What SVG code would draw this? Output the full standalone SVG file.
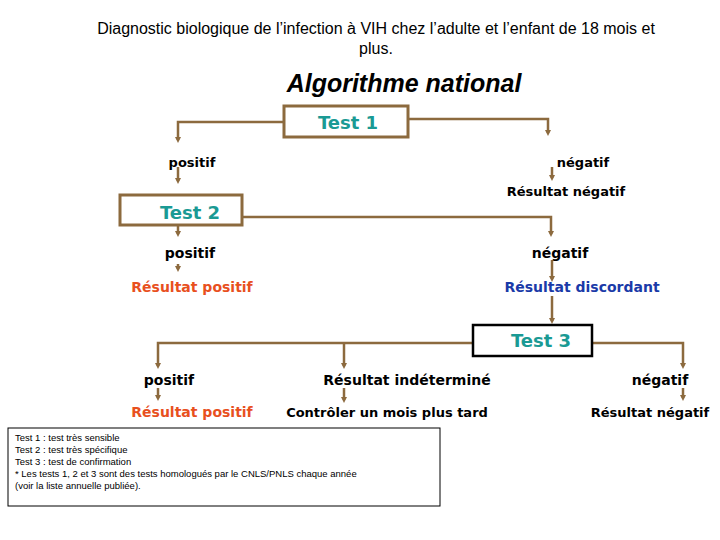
<svg xmlns="http://www.w3.org/2000/svg" width="720" height="540" viewBox="0 0 720 540">
<defs>
<marker id="ah" markerWidth="6" markerHeight="6" refX="3" refY="3" orient="auto" markerUnits="userSpaceOnUse"><path d="M0,0 L6,3 L0,6 z" fill="#8c6a3e"/></marker>
<style>
.c{fill:none;stroke:#8c6a3e;stroke-width:2.5}
.b{font-family:"DejaVu Sans",Verdana,sans-serif;font-weight:bold;text-anchor:middle}
.l{font-size:13px;fill:#000}
.t{font-size:18px;fill:#1a9a94}
.box{fill:#fff;stroke:#8c6a3e;stroke-width:3}
</style>
</defs>
<rect width="720" height="540" fill="#fff"/>
<g id="title" font-family="Liberation Sans,Arial,sans-serif" font-size="16" text-anchor="middle">
<text x="376" y="34">Diagnostic biologique de l’infection à  VIH chez l’adulte et l’enfant de 18 mois et</text>
<text x="376" y="54">plus.</text>
<text x="404" y="92" font-size="25" font-weight="bold" font-style="italic">Algorithme national</text>
</g>
<g id="connectors">
<path class="c" d="M283,122 H178 V140" marker-end="url(#ah)"/>
<path class="c" d="M408,119 H548 V133" marker-end="url(#ah)"/>
<path class="c" d="M178,167 V181" marker-end="url(#ah)"/>
<path class="c" d="M552,167 V178" marker-end="url(#ah)"/>
<path class="c" d="M242,217 H551 V234" marker-end="url(#ah)"/>
<path class="c" d="M178,225 V234" marker-end="url(#ah)"/>
<path class="c" d="M178,264 V269" marker-end="url(#ah)"/>
<path class="c" d="M552,260 V279" marker-end="url(#ah)"/>
<path class="c" d="M552,296 V321" marker-end="url(#ah)"/>
<path class="c" d="M472,343 H158 V366" marker-end="url(#ah)"/>
<path class="c" d="M344,343 V366" marker-end="url(#ah)"/>
<path class="c" d="M592,343 H683 V366" marker-end="url(#ah)"/>
<path class="c" d="M158,388 V398" marker-end="url(#ah)"/>
<path class="c" d="M344,388 V400" marker-end="url(#ah)"/>
<path class="c" d="M683,388 V398" marker-end="url(#ah)"/>
</g>
<g id="test1"><rect class="box" x="284" y="106" width="124" height="31"/><text class="b t" x="348" y="129">Test 1</text></g>
<g id="test2"><rect class="box" x="120" y="195" width="122" height="30"/><text class="b t" x="190" y="219">Test 2</text></g>
<g id="test3"><rect x="473" y="325" width="119" height="31" fill="#fff" stroke="#000" stroke-width="2.5"/><text class="b t" x="541" y="347">Test 3</text></g>
<g id="labels" class="b">
<text class="b l" x="192" y="167">positif</text>
<text class="b l" x="583" y="167">négatif</text>
<text class="b l" x="566" y="196">Résultat négatif</text>
<text class="b" x="190" y="258" font-size="14">positif</text>
<text class="b" x="560" y="258" font-size="14">négatif</text>
<text class="b" x="192" y="292" font-size="14" fill="#e8501e">Résultat positif</text>
<text class="b" x="582" y="292" font-size="14" fill="#1a3aa8">Résultat discordant</text>
<text class="b" x="169" y="385" font-size="14">positif</text>
<text class="b" x="407" y="385" font-size="14">Résultat indéterminé</text>
<text class="b" x="660" y="385" font-size="14">négatif</text>
<text class="b" x="192" y="417" font-size="14" fill="#e8501e">Résultat positif</text>
<text class="b l" x="387" y="417">Contrôler un mois plus tard</text>
<text class="b l" x="650" y="417">Résultat négatif</text>
</g>
<g id="legend" font-family="Liberation Sans,Arial,sans-serif" font-size="9.5">
<rect x="8" y="428" width="432" height="78" fill="#fff" stroke="#000" stroke-width="1"/>
<text x="15" y="441">Test 1 : test très sensible</text>
<text x="15" y="453">Test 2 : test très spécifique</text>
<text x="15" y="465">Test 3 : test de confirmation</text>
<text x="15" y="477">* Les tests 1, 2 et 3 sont des tests homologués par le CNLS/PNLS chaque année</text>
<text x="15" y="489">(voir la liste annuelle publiée).</text>
</g>
</svg>
